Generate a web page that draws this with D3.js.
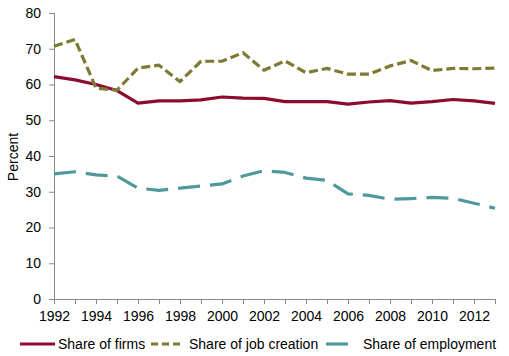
<!DOCTYPE html>
<html><head><meta charset="utf-8">
<script src="https://cdn.jsdelivr.net/npm/d3@7"></script>
<style>html,body{margin:0;padding:0;background:#fff;}svg{display:block;font-family:"Liberation Sans",Arial,sans-serif;}</style>
</head><body>
<svg id="c" width="509" height="356"></svg>
<script>
const years = [1992,1993,1994,1995,1996,1997,1998,1999,2000,2001,2002,2003,2004,2005,2006,2007,2008,2009,2010,2011,2012,2013];
const firms = [62.2,61.3,60.0,58.3,54.8,55.4,55.4,55.7,56.5,56.2,56.1,55.2,55.2,55.2,54.5,55.1,55.5,54.8,55.2,55.8,55.4,54.7];
const jobCreation = [70.7,72.6,59.0,58.4,64.6,65.4,60.8,66.5,66.5,68.9,64.0,66.6,63.3,64.5,62.9,62.9,65.2,66.7,63.9,64.5,64.4,64.6];
const employment = [35.0,35.6,34.7,34.4,31.0,30.4,31.0,31.6,32.2,34.4,35.9,35.4,33.8,33.2,29.4,29.0,27.9,28.1,28.4,28.2,26.8,25.4];
const yTicks = [0,10,20,30,40,50,60,70,80];
const xTickLabels = [1992,1994,1996,1998,2000,2002,2004,2006,2008,2010,2012];
const seriesNames = ["Share of firms","Share of job creation","Share of employment"];

const svg = d3.select("#c");
const x = d3.scaleLinear().domain([1992,2013]).range([54,495]);
const y = d3.scaleLinear().domain([0,80]).range([299,13]);
const axisColor = "#888";

// y axis
const ya = svg.append("g").attr("transform","translate(54,0)")
  .call(d3.axisLeft(y).tickValues(yTicks).tickSize(5).tickPadding(8).tickFormat(d3.format("d")));
ya.select(".domain").attr("stroke",axisColor).attr("stroke-width",1);
ya.selectAll(".tick line").attr("stroke",axisColor);
ya.selectAll("text").attr("font-size",14).attr("fill","#000").attr("font-family","Liberation Sans, Arial, sans-serif");

// x axis
const xa = svg.append("g").attr("transform","translate(0,299)")
  .call(d3.axisBottom(x).tickValues(years).tickSize(5).tickPadding(7)
    .tickFormat(d => xTickLabels.includes(d) ? String(d) : ""));
xa.select(".domain").attr("stroke",axisColor).attr("stroke-width",1);
xa.selectAll(".tick line").attr("stroke",axisColor);
xa.selectAll("text").attr("font-size",14).attr("fill","#000").attr("font-family","Liberation Sans, Arial, sans-serif");

// y title
svg.append("text").attr("transform","translate(18,157) rotate(-90)")
  .attr("text-anchor","middle").attr("font-size",14).text("Percent");

const styles = [
  {data: firms, color: "#8b0c30", dash: null},
  {data: jobCreation, color: "#7f7a33", dash: "9,4"},
  {data: employment, color: "#4f999b", dash: "22,10"}
];
const line = d3.line().x((d,i)=>x(years[i])).y(d=>y(d));
styles.forEach(s => {
  svg.append("path").datum(s.data).attr("d",line)
    .attr("fill","none").attr("stroke",s.color).attr("stroke-width",3.2)
    .attr("stroke-linejoin","round")
    .attr("stroke-dasharray",s.dash);
});

// legend
const legend = [
  {x1:20,x2:55,tx:58,dash:null},
  {x1:151,x2:184,tx:189,dash:"7,4"},
  {x1:326,x2:348,tx:363,dash:null}
];
legend.forEach((l,i)=>{
  svg.append("line").attr("x1",l.x1).attr("x2",l.x2).attr("y1",344).attr("y2",344)
    .attr("stroke",styles[i].color).attr("stroke-width",3.2).attr("stroke-dasharray",l.dash);
  svg.append("text").attr("x",l.tx).attr("y",349).attr("font-size",14).text(seriesNames[i]);
});
</script>
</body></html>
